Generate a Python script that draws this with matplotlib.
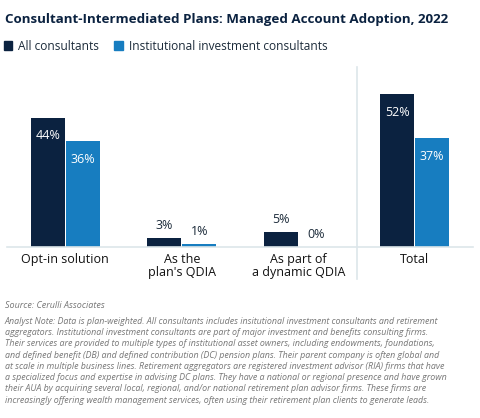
import matplotlib.pyplot as plt
from matplotlib.patches import Patch
import numpy as np

categories = ['Opt-in solution', 'As the\nplan\'s QDIA', 'As part of\na dynamic QDIA', 'Total']
all_consultants = [44, 3, 5, 52]
inst_consultants = [36, 1, 0, 37]
series_names = ['All consultants', 'Institutional investment consultants']

title = 'Consultant-Intermediated Plans: Managed Account Adoption, 2022'
source = 'Source: Cerulli Associates'
note = ('Analyst Note: Data is plan-weighted. All consultants includes insitutional investment consultants and retirement\n'
        'aggregators. Institutional investment consultants are part of major investment and benefits consulting firms.\n'
        'Their services are provided to multiple types of institutional asset owners, including endowments, foundations,\n'
        'and defined benefit (DB) and defined contribution (DC) pension plans. Their parent company is often global and\n'
        'at scale in multiple business lines. Retirement aggregators are registered investment advisor (RIA) firms that have\n'
        'a specialized focus and expertise in advising DC plans. They have a national or regional presence and have grown\n'
        'their AUA by acquiring several local, regional, and/or national retirement plan advisor firms. These firms are\n'
        'increasingly offering wealth management services, often using their retirement plan clients to generate leads.')

DARK = '#0b2240'
BLUE = '#177dc0'
GRID = '#dde6ea'
TXT = '#1c2b3a'

plt.rcParams['font.family'] = ['Open Sans', 'DejaVu Sans']

W, H = 480, 418
fig = plt.figure(figsize=(W / 100, H / 100), dpi=100)

# axes placed in pixel terms: x 7..473, baseline at y=247, top at y=70
ax = fig.add_axes([7 / W, (H - 247) / H, 466 / W, 176.4 / H])
x = np.arange(len(categories))
bw = 0.288
b1 = ax.bar(x - bw / 2 - 0.006, all_consultants, bw, color=DARK)
b2 = ax.bar(x + bw / 2 + 0.006, inst_consultants, bw, color=BLUE)
ax.set_xlim(-0.5, 3.5)
ax.set_ylim(0, 60)

for bars in (b1, b2):
    for r in bars:
        v = r.get_height()
        cx = r.get_x() + r.get_width() / 2
        if v >= 20:
            ax.annotate(f'{v:.0f}%', (cx, v), xytext=(0, -13), textcoords='offset points',
                        ha='center', va='center', color='white', fontsize=9)
        else:
            ax.annotate(f'{v:.0f}%', (cx, v), xytext=(0, 9), textcoords='offset points',
                        ha='center', va='center', color=TXT, fontsize=9)

ax.set_xticks(x)
ax.set_xticklabels(categories, fontsize=9, color='#111111', linespacing=1.05, va='top')
ax.tick_params(axis='x', length=0, pad=4)
ax.set_yticks([])
for s in ['top', 'right', 'left']:
    ax.spines[s].set_visible(False)
ax.spines['bottom'].set_color(GRID)
ax.spines['bottom'].set_linewidth(1.2)

# separator before Total
ax.axvline(2.5, ymin=-0.18, ymax=1.02, color=GRID, lw=1.2, clip_on=False)

fig.text(5 / W, 1 - 20 / H, title, fontsize=9.6, fontweight='bold', color=DARK,
         ha='left', va='center')

handles = [Patch(color=DARK), Patch(color=BLUE)]
fig.legend(handles, series_names, loc='center left', bbox_to_anchor=(0.0, 1 - 46 / H),
           ncol=2, frameon=False, fontsize=8.6, handlelength=0.7, handleheight=0.7,
           handletextpad=0.5, columnspacing=1.3, labelcolor=TXT, borderaxespad=0,
           borderpad=0.3)

fig.text(5 / W, 1 - 306 / H, source, fontsize=6.5, style='italic', color='#777777',
         ha='left', va='center')
fig.text(5 / W, 1 - 317 / H, note, fontsize=6.4, style='italic', color='#777777',
         ha='left', va='top', linespacing=1.32)

fig.savefig('out.png', dpi=100)
